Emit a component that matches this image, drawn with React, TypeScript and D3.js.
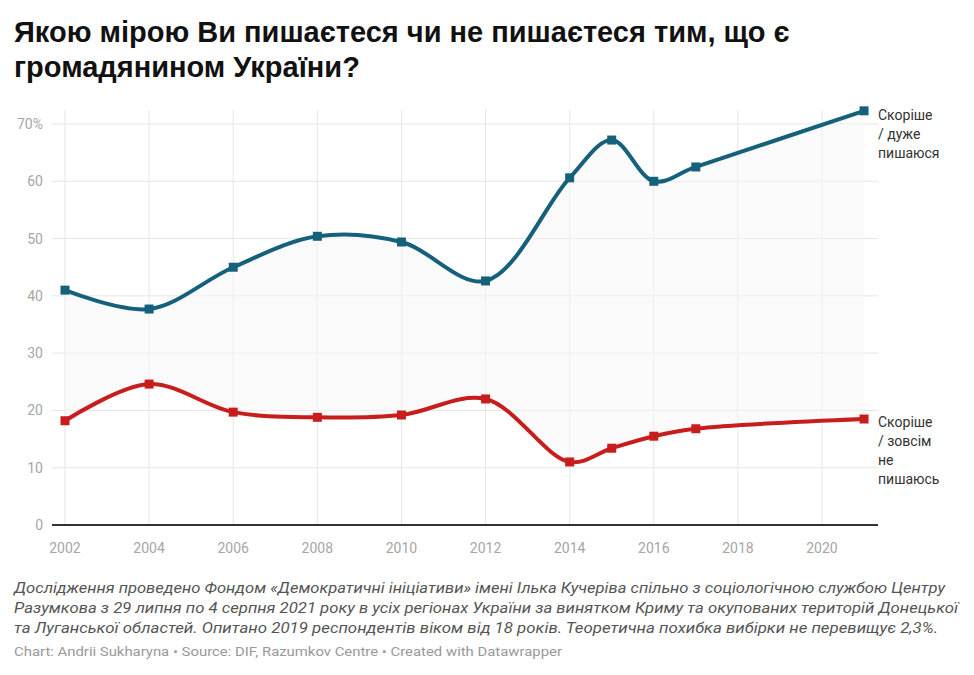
import React from "react";
import * as d3 from "d3";

const years = [2002, 2004, 2006, 2008, 2010, 2012, 2014, 2015, 2016, 2017, 2021];
const proud = [41.0, 37.7, 45.0, 50.4, 49.4, 42.6, 60.6, 67.2, 60.0, 62.5, 72.3];
const notProud = [18.2, 24.6, 19.7, 18.8, 19.2, 22.0, 11.0, 13.4, 15.5, 16.8, 18.5];
const xTicks = [2002, 2004, 2006, 2008, 2010, 2012, 2014, 2016, 2018, 2020];
const yTicks = [0, 10, 20, 30, 40, 50, 60, 70];
const titleLines = ["Якою мірою Ви пишаєтеся чи не пишаєтеся тим, що є", "громадянином України?"];
const proudLabel = ["Скоріше", "/ дуже", "пишаюся"];
const notProudLabel = ["Скоріше", "/ зовсім", "не", "пишаюсь"];
const noteLines = [
  "Дослідження проведено Фондом «Демократичні ініціативи» імені Ілька Кучеріва спільно з соціологічною службою Центру",
  "Разумкова з 29 липня по 4 серпня 2021 року в усіх регіонах України за винятком Криму та окупованих територій Донецької",
  "та Луганської областей. Опитано 2019 респондентів віком від 18 років. Теоретична похибка вибірки не перевищує 2,3%.",
];
const credit = "Chart: Andrii Sukharyna • Source: DIF, Razumkov Centre • Created with Datawrapper";

const BLUE = "#15607a";
const RED = "#c71e1d";

export default function App() {
  const W = 974, H = 675;
  const x = d3.scaleLinear().domain([2002, 2020]).range([65, 822]);
  const y = d3.scaleLinear().domain([0, 70]).range([525, 124]);
  const curve = d3.curveCatmullRom.alpha(0.5);
  const blueData = years.map((yr, i) => [yr, proud[i]] as [number, number]);
  const redData = years.map((yr, i) => [yr, notProud[i]] as [number, number]);
  const line = d3.line<[number, number]>().x(d => x(d[0])).y(d => y(d[1])).curve(curve);
  const area = d3.area<number>()
    .x((_, i) => x(years[i]))
    .y0((_, i) => y(notProud[i]))
    .y1((_, i) => y(proud[i]))
    .curve(curve);
  const idx = years.map((_, i) => i);
  const font = "Roboto, 'Liberation Sans', sans-serif";
  const left = 52, right = 878;
  return (
    <svg width={W} height={H} style={{ position: "absolute", left: 0, top: 0, background: "#fff" }}>
      <rect width={W} height={H} fill="#fff" />
      {titleLines.map((t, i) => (
        <text key={i} x={14} y={42 + i * 35} fontFamily="'Liberation Sans', Arial, sans-serif" fontWeight="bold" fontSize={29} fill="#111">{t}</text>
      ))}
      {yTicks.map(t => (
        <g key={t}>
          {t > 0 && <line x1={left} x2={right} y1={y(t)} y2={y(t)} stroke="#e6e6e6" strokeWidth={1} />}
          <text x={43} y={y(t) + 5} textAnchor="end" fontFamily={font} fontSize={14} fill="#a6a6a6">{t === 70 ? "70%" : t}</text>
        </g>
      ))}
      {xTicks.map(t => (
        <g key={t}>
          <line x1={x(t)} x2={x(t)} y1={110} y2={525} stroke="#e6e6e6" strokeWidth={1} />
          <text x={x(t)} y={553} textAnchor="middle" fontFamily={font} fontSize={14} fill="#a6a6a6">{t}</text>
        </g>
      ))}
      <path d={area(idx) || ""} fill="#f5f5f5" fillOpacity={0.5} />
      <line x1={left} x2={right} y1={525} y2={525} stroke="#333" strokeWidth={2} />
      <path d={line(blueData) || ""} fill="none" stroke={BLUE} strokeWidth={4} />
      <path d={line(redData) || ""} fill="none" stroke={RED} strokeWidth={4} />
      {blueData.map((d, i) => (
        <rect key={"b" + i} x={x(d[0]) - 4.5} y={y(d[1]) - 4.5} width={9} height={9} fill={BLUE} />
      ))}
      {redData.map((d, i) => (
        <rect key={"r" + i} x={x(d[0]) - 4.5} y={y(d[1]) - 4.5} width={9} height={9} fill={RED} />
      ))}
      {proudLabel.map((t, i) => (
        <text key={t} x={878} y={120 + i * 19} fontFamily={font} fontSize={14} fill="#333">{t}</text>
      ))}
      {notProudLabel.map((t, i) => (
        <text key={t} x={878} y={427 + i * 19} fontFamily={font} fontSize={14} fill="#333">{t}</text>
      ))}
      {noteLines.map((t, i) => (
        <text key={i} x={14} y={593 + i * 20} fontFamily={font} fontStyle="italic" fontSize={14} fill="#555"
          textLength={i === 0 ? 931 : i === 1 ? 944 : 924} lengthAdjust="spacingAndGlyphs">{t}</text>
      ))}
      <text x={14} y={656} fontFamily={font} fontSize={12.5} fill="#999" textLength={548} lengthAdjust="spacingAndGlyphs">{credit}</text>
    </svg>
  );
}
